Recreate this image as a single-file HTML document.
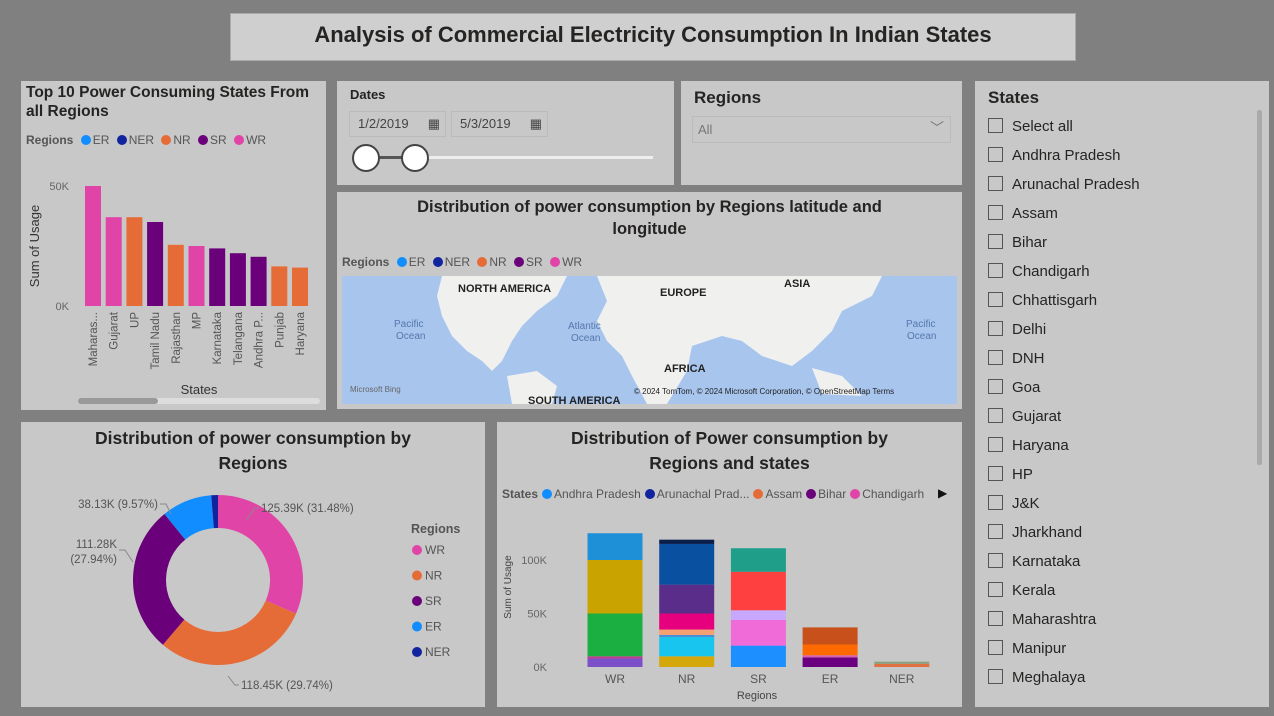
<!DOCTYPE html>
<html><head><meta charset="utf-8">
<style>
body{margin:0;width:1274px;height:716px;background:#808080;font-family:"Liberation Sans",sans-serif;position:relative;overflow:hidden;color:#252423}
.p{position:absolute;background:#c8c8c8}
.t{position:absolute;font-weight:bold}
.lg{position:absolute;font-size:12px;color:#555;white-space:nowrap}
.lg b{color:#555}
.dot{display:inline-block;width:10px;height:10px;border-radius:50%;margin:0 2px 0 4px;vertical-align:-1px}
.cb{position:absolute;left:988px;font-size:15px;color:#252423}
.cb i{display:inline-block;width:13px;height:13px;border:1px solid #555;margin-right:9px;vertical-align:-2px}
</style></head><body>
<div class="p" style="left:230px;top:13px;width:846px;height:48px;background:#cfcfcf;border:1px solid #aaa;box-sizing:border-box"></div>
<div class="t" style="left:230px;top:22px;width:846px;text-align:center;font-size:22px">Analysis of Commercial Electricity Consumption In Indian States</div>

<div class="p" style="left:21px;top:81px;width:305px;height:329px"></div>
<div class="t" style="left:26px;top:83px;font-size:15.5px;line-height:19px">Top 10 Power Consuming States From<br>all Regions</div>
<div class="lg" style="left:26px;top:133px"><b>Regions</b> <span class="dot" style="background:#118dff"></span>ER <span class="dot" style="background:#12239e"></span>NER <span class="dot" style="background:#e66c37"></span>NR <span class="dot" style="background:#6b007b"></span>SR <span class="dot" style="background:#e044a7"></span>WR</div>
<svg style="position:absolute;left:21px;top:81px" width="305" height="329" id="top10"></svg>

<div class="p" style="left:337px;top:81px;width:337px;height:104px"></div>
<div class="t" style="left:350px;top:87px;font-size:13px">Dates</div>
<div class="p" style="left:349px;top:111px;width:97px;height:26px;border:1px solid #bbb;box-sizing:border-box;font-size:13px;line-height:24px;padding-left:8px;color:#444">1/2/2019 <span style="position:absolute;right:5px">▦</span></div>
<div class="p" style="left:451px;top:111px;width:97px;height:26px;border:1px solid #bbb;box-sizing:border-box;font-size:13px;line-height:24px;padding-left:8px;color:#444">5/3/2019 <span style="position:absolute;right:5px">▦</span></div>
<div style="position:absolute;left:365px;top:156px;width:288px;height:3px;background:#eee"></div>
<div style="position:absolute;left:365px;top:156px;width:50px;height:3px;background:#555"></div>
<div style="position:absolute;left:352px;top:144px;width:24px;height:24px;border-radius:50%;background:#fff;border:2px solid #444"></div>
<div style="position:absolute;left:401px;top:144px;width:24px;height:24px;border-radius:50%;background:#fff;border:2px solid #444"></div>

<div class="p" style="left:681px;top:81px;width:281px;height:104px"></div>
<div class="t" style="left:694px;top:88px;font-size:17px">Regions</div>
<div class="p" style="left:692px;top:116px;width:259px;height:27px;border:1px solid #bbb;box-sizing:border-box;font-size:13px;line-height:25px;padding-left:5px;color:#777">All<span style="position:absolute;right:6px;top:-1px;font-size:14px">﹀</span></div>

<div class="p" style="left:337px;top:192px;width:625px;height:217px"></div>
<div class="t" style="left:337px;top:196px;width:625px;text-align:center;font-size:16.5px;line-height:22px">Distribution of power consumption by Regions latitude and<br>longitude</div>
<div class="lg" style="left:342px;top:255px"><b>Regions</b> <span class="dot" style="background:#118dff"></span>ER <span class="dot" style="background:#12239e"></span>NER <span class="dot" style="background:#e66c37"></span>NR <span class="dot" style="background:#6b007b"></span>SR <span class="dot" style="background:#e044a7"></span>WR</div>
<svg style="position:absolute;left:342px;top:276px" width="615" height="128">
<rect width="615" height="128" fill="#a8c5ee"/>
<path d="M100,0 L225,0 L215,20 L195,35 L180,50 L170,65 L160,85 L150,95 L140,85 L125,75 L110,60 L100,40 L95,20 Z" fill="#f0f0ee"/>
<path d="M165,100 L195,95 L215,110 L210,128 L170,128 Z" fill="#f0f0ee"/>
<path d="M255,0 L540,0 L530,20 L500,35 L490,55 L470,75 L450,90 L420,80 L400,65 L380,60 L350,70 L345,95 L325,128 L305,128 L290,100 L280,80 L265,65 L255,45 L265,25 Z" fill="#f0f0ee"/>
<path d="M470,92 L500,100 L520,120 L480,118 Z" fill="#f0f0ee"/>
<text x="116" y="16" font-size="11" font-weight="bold" fill="#222">NORTH AMERICA</text>
<text x="318" y="20" font-size="11" font-weight="bold" fill="#222">EUROPE</text>
<text x="442" y="11" font-size="11" font-weight="bold" fill="#222">ASIA</text>
<text x="322" y="96" font-size="11" font-weight="bold" fill="#222">AFRICA</text>
<text x="186" y="128" font-size="11" font-weight="bold" fill="#222">SOUTH AMERICA</text>
<text x="52" y="51" font-size="10" fill="#5577aa">Pacific</text><text x="54" y="63" font-size="10" fill="#5577aa">Ocean</text>
<text x="226" y="53" font-size="10" fill="#5577aa">Atlantic</text><text x="229" y="65" font-size="10" fill="#5577aa">Ocean</text>
<text x="564" y="51" font-size="10" fill="#5577aa">Pacific</text><text x="565" y="63" font-size="10" fill="#5577aa">Ocean</text>
<text x="8" y="116" font-size="8" fill="#666">Microsoft Bing</text>
<text x="292" y="118" font-size="8" fill="#222">© 2024 TomTom, © 2024 Microsoft Corporation, © OpenStreetMap  Terms</text>
</svg>

<div class="p" style="left:21px;top:422px;width:464px;height:285px"></div>
<div class="t" style="left:21px;top:426px;width:464px;text-align:center;font-size:17.5px;line-height:25px">Distribution of power consumption by<br>Regions</div>
<svg style="position:absolute;left:21px;top:422px" width="464" height="285" id="donut"></svg>

<div class="p" style="left:497px;top:422px;width:465px;height:285px"></div>
<div class="t" style="left:497px;top:426px;width:465px;text-align:center;font-size:17.5px;line-height:25px">Distribution of Power consumption by<br>Regions and states</div>
<div class="lg" style="left:502px;top:487px"><b>States</b><span class="dot" style="background:#118dff"></span>Andhra Pradesh<span class="dot" style="background:#12239e"></span>Arunachal Prad...<span class="dot" style="background:#e66c37"></span>Assam<span class="dot" style="background:#6b007b"></span>Bihar<span class="dot" style="background:#e044a7"></span>Chandigarh</div>
<div style="position:absolute;left:938px;top:486px;font-size:12px;color:#111">▶</div>
<svg style="position:absolute;left:497px;top:422px" width="465" height="285" id="stacked"></svg>

<div class="p" style="left:975px;top:81px;width:294px;height:626px"></div>
<div class="t" style="left:988px;top:88px;font-size:17px">States</div>
<div style="position:absolute;left:1257px;top:110px;width:5px;height:355px;background:#aaa;border-radius:2px"></div>
<div id="states"></div>

<script>
// Top 10 chart
const t10States=["Maharas...","Gujarat","UP","Tamil Nadu","Rajasthan","MP","Karnataka","Telangana","Andhra P...","Punjab","Haryana"];
const t10Values=[50,37,37,35,25.5,25,24,22,20.5,16.5,16];
const t10Regions=["WR","WR","NR","SR","NR","WR","SR","SR","SR","NR","NR"];
const t10Ticks=[0,50];
const regionColor={ER:"#118dff",NER:"#12239e",NR:"#e66c37",SR:"#6b007b",WR:"#e044a7"};
const NS="http://www.w3.org/2000/svg";
function mk(svg,tag,attrs,txt){const e=document.createElementNS(NS,tag);for(const k in attrs)e.setAttribute(k,attrs[k]);if(txt!==undefined)e.textContent=txt;svg.appendChild(e);return e;}
(function(){
 const s=document.getElementById('top10');
 const y0=225,ys=2.4,x0=64,step=20.7;
 const y=v=>y0-v*ys;
 t10Ticks.forEach(t=>{const e=mk(s,'text',{x:48,y:y(t)+4,'font-size':11,fill:'#666','text-anchor':'end'},t+'K');});
 const yt=mk(s,'text',{transform:'translate(18,165) rotate(-90)','font-size':13,fill:'#333','text-anchor':'middle'},'Sum of Usage');
 
 t10Values.forEach((v,i)=>{
  const r=mk(s,'rect',{x:x0+i*step,y:y(v),width:16,height:v*ys,fill:regionColor[t10Regions[i]]});
  
  
  const cx=x0+i*step+8;
  const l=mk(s,'text',{transform:`translate(${cx+4},231) rotate(-90)`,'font-size':11.5,fill:'#555','text-anchor':'end'},t10States[i]);
  
 });
 const xt=mk(s,'text',{x:178,y:313,'font-size':13,fill:'#333','text-anchor':'middle'},'States');
 
 mk(s,'rect',{x:57,y:317,width:242,height:6,rx:3,fill:'#ddd'});
 const sb=mk(s,'rect',{x:57,y:317,width:80,height:6,rx:3,fill:'#999'});
 
})();

// Donut
const donutRegions=["WR","NR","SR","ER","NER"];
const donutValues=[125.39,118.45,111.28,38.13,5.06];
const donutLabels=["125.39K (31.48%)","118.45K (29.74%)","111.28K\n(27.94%)","38.13K (9.57%)",""];
(function(){
 const s=document.getElementById('donut');
 const cx=197,cy=158,R=85,r=52;
 const tot=donutValues.reduce((a,b)=>a+b,0);
 let a=-Math.PI/2;
 donutValues.forEach((v,i)=>{
  const da=v/tot*2*Math.PI,a2=a+da,lg=da>Math.PI?1:0;
  const p=(rr,an)=>[cx+rr*Math.cos(an),cy+rr*Math.sin(an)];
  const [x1,y1]=p(R,a),[x2,y2]=p(R,a2),[x3,y3]=p(r,a2),[x4,y4]=p(r,a);
  const e=mk(s,'path',{d:`M${x1},${y1}A${R},${R} 0 ${lg} 1 ${x2},${y2}L${x3},${y3}A${r},${r} 0 ${lg} 0 ${x4},${y4}Z`,fill:regionColor[donutRegions[i]]});
  
  
  a=a2;
 });
 const lab=[[240,90,'start'],[220,267,'start'],[96,126,'end'],[137,86,'end']];
 lab.forEach((L,i)=>{donutLabels[i].split('\n').forEach((ln,j)=>{
  const t=mk(s,'text',{x:L[0],y:L[1]+j*15,'font-size':11.5,fill:'#555','text-anchor':L[2]},ln);
  });});
 mk(s,'path',{d:'M238,86 L234,86 L225,98',stroke:'#888',fill:'none'});
 mk(s,'path',{d:'M218,263 L214,263 L207,254',stroke:'#888',fill:'none'});
 mk(s,'path',{d:'M98,128 L104,128 L112,140',stroke:'#888',fill:'none'});
 mk(s,'path',{d:'M139,82 L145,82 L150,92',stroke:'#888',fill:'none'});
 const lt=mk(s,'text',{x:390,y:111,'font-size':12.5,'font-weight':'bold',fill:'#555'},'Regions');
 
 donutRegions.forEach((g,i)=>{
  mk(s,'circle',{cx:396,cy:128+i*25.5,r:5,fill:regionColor[g]});
  const t=mk(s,'text',{x:404,y:132+i*25.5,'font-size':12,fill:'#555'},g);
  
 });
})();

// Stacked chart
const stRegions=["WR","NR","SR","ER","NER"];
const stSegWR=[8,2,40,50,25];
const stSegNR=[10,18,2,5,15,27,38,4];
const stSegSR=[20,24,9,36,22];
const stSegER=[9,2,10,16];
const stSegNER=[3,2];
const stTicks=[0,50,100];
const stColors=[
 ["#7b4fc8","#c03c8c","#1aaf40","#c9a300","#1e90d8"],
 ["#d4a80a","#18c5ef","#4a90d9","#f4a070","#e6007e","#5a2d8a","#0a50a1","#0b1f4d"],
 ["#1e8fff","#f06ad8","#c8a8ff","#ff4040","#1f9e89"],
 ["#6a0080","#d95fb0","#ff6a00","#c8501a"],
 ["#e07040","#8aa080"]];
(function(){
 const s=document.getElementById('stacked');
 const y0=245,ys=1.07,bw=55,cx0=118,step=71.7;
 const y=v=>y0-v*ys;
 stTicks.forEach(t=>{const e=mk(s,'text',{x:50,y:y(t)+4,'font-size':11,fill:'#666','text-anchor':'end'},t+'K');});
 const yt=mk(s,'text',{transform:'translate(14,165) rotate(-90)','font-size':10,fill:'#444','text-anchor':'middle'},'Sum of Usage');
 
 [stSegWR,stSegNR,stSegSR,stSegER,stSegNER].forEach((segs,i)=>{
  let acc=0;const cx=cx0+i*step;
  segs.forEach((v,j)=>{
   const r=mk(s,'rect',{x:cx-bw/2,y:y(acc+v),width:bw,height:v*ys,fill:stColors[i][j]});
   
   
   acc+=v;});
  const l=mk(s,'text',{x:cx,y:261,'font-size':12,fill:'#555','text-anchor':'middle'},stRegions[i]);
  
 });
 const xt=mk(s,'text',{x:260,y:277,'font-size':11,fill:'#444','text-anchor':'middle'},'Regions');
 
})();

// States list
const stateNames=["Select all","Andhra Pradesh","Arunachal Pradesh","Assam","Bihar","Chandigarh","Chhattisgarh","Delhi","DNH","Goa","Gujarat","Haryana","HP","J&K","Jharkhand","Karnataka","Kerala","Maharashtra","Manipur","Meghalaya"];
(function(){
 const c=document.getElementById('states');
 stateNames.forEach((n,i)=>{
  const d=document.createElement('div');d.className='cb';d.style.top=(118+i*29)+'px';
  d.innerHTML='<i></i>'+n.replace('&','&amp;');
  
  
  c.appendChild(d);
 });
})();
</script>
</body></html>
